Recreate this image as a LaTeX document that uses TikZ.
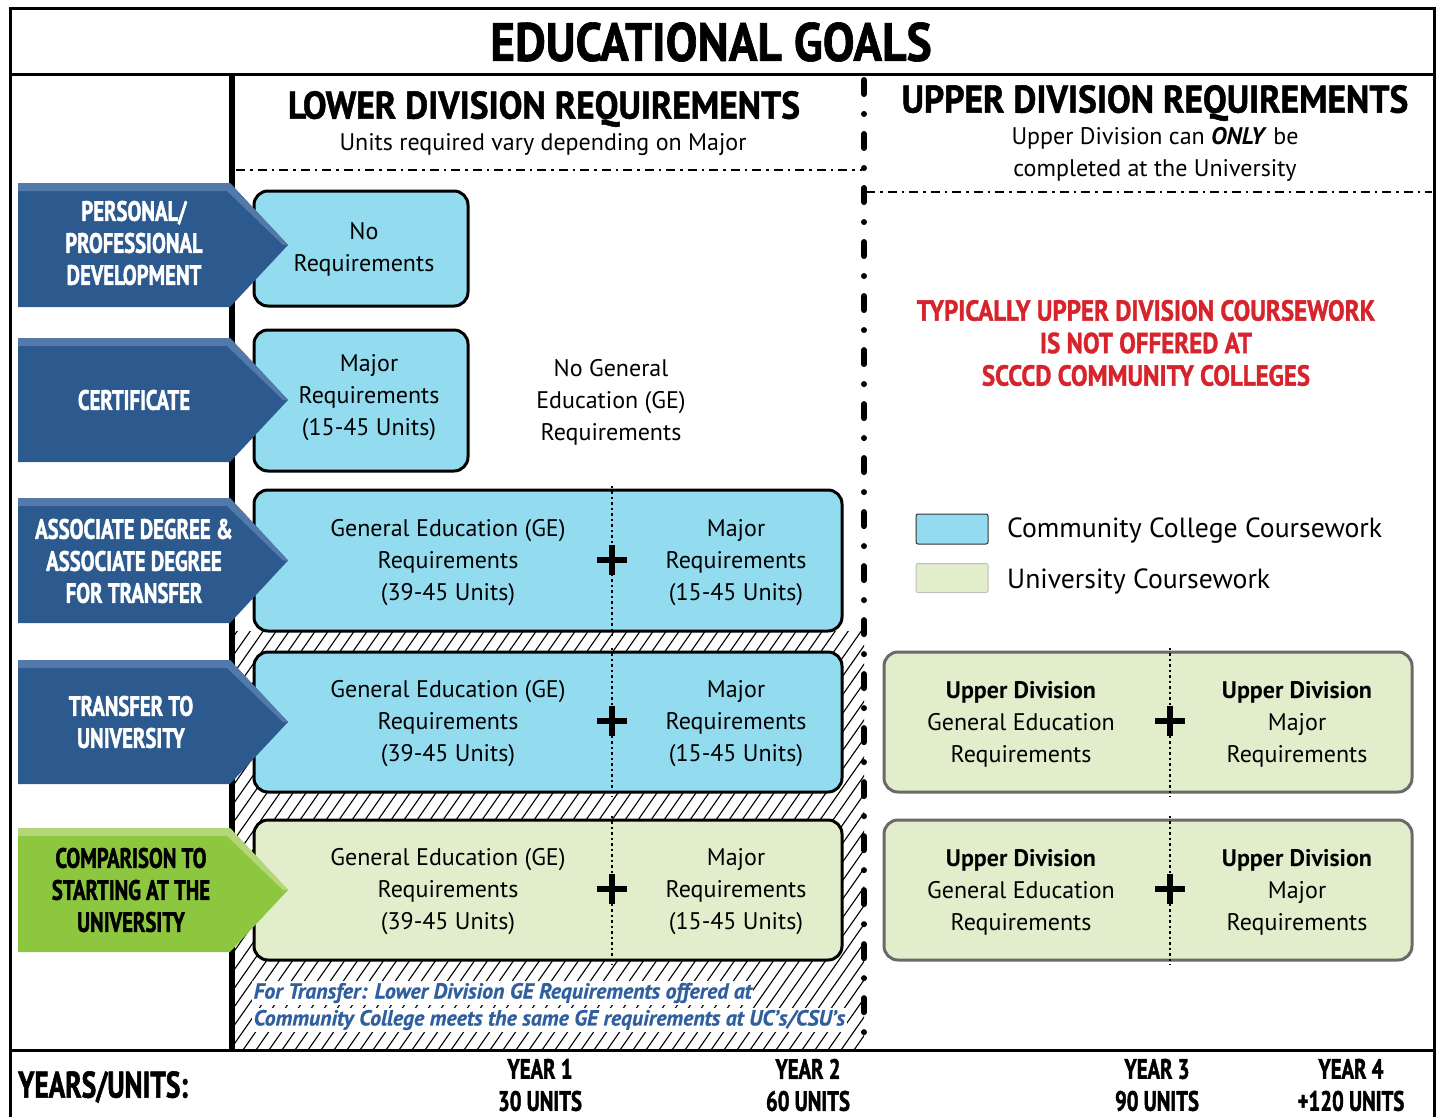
\documentclass[tikz,border=0pt]{standalone}
\usepackage{fontspec}
\setmainfont{PT Sans}
\newfontfamily\condf[FakeStretch=0.74,BoldFeatures={FakeBold=1.5}]{PT Sans}
\newfontfamily\redf[FakeStretch=0.86,BoldFeatures={FakeBold=1.2}]{PT Sans}
\newfontfamily\headf[FakeStretch=0.92,BoldFeatures={FakeBold=1.2}]{PT Sans}
\newfontfamily\titlef[FakeStretch=0.88,BoldFeatures={FakeBold=1.2}]{PT Sans}
\newfontfamily\notef[BoldItalicFeatures={FakeBold=0.6}]{PT Sans}
\definecolor{cyanbox}{HTML}{93DCF0}
\definecolor{greenbox}{HTML}{E2EDCB}
\definecolor{arrowblue}{HTML}{2C5A8E}
\definecolor{arrowbluelt}{HTML}{5279AA}
\definecolor{arrowgreen}{HTML}{8DC63F}
\definecolor{arrowgreenlt}{HTML}{B3D778}
\definecolor{redtxt}{HTML}{D7232B}
\definecolor{bluetxt}{HTML}{2F5F9E}
\definecolor{ubord}{HTML}{6A6A6A}
\newcommand\goalarrow[4]{%
  \fill[#3] (18,#1) -- (230,#1) -- (288,{(#1+#2)/2}) -- (230,#2) -- (18,#2) -- cycle;
  \fill[#4] (18,#1) -- (230,#1) -- (288,{(#1+#2)/2}) -- (283,{(#1+#2)/2}) -- (227,{#1+8}) -- (18,{#1+8}) -- cycle;
}
\tikzset{
  cbox/.style={draw=black, line width=3pt, rounded corners=14pt, fill=cyanbox, inner sep=0pt},
  gbox/.style={draw=black, line width=3pt, rounded corners=14pt, fill=greenbox, inner sep=0pt},
  ubox/.style={draw=ubord, line width=3pt, rounded corners=14pt, fill=greenbox, inner sep=0pt},
  txt/.style={font=\fontsize{24}{32}\selectfont, align=center, inner sep=0pt},
  arrtxt/.style={font=\condf\bfseries\fontsize{28}{32}\selectfont, align=center, inner sep=0pt, text=white},
  yeartxt/.style={font=\condf\bfseries\fontsize{28}{32}\selectfont, align=center, inner sep=0pt},
  notetxt/.style={font=\notef\bfseries\itshape\fontsize{21.8}{24}\selectfont, text=bluetxt, anchor=west, fill=white, inner sep=1.5pt},
  divline/.style={line width=2.5pt, dash pattern=on 2.5pt off 3pt},
  plusbar/.style={line width=6pt},
  dashdotthin/.style={line width=2.5pt, dash pattern=on 9pt off 5pt on 2.5pt off 5pt},
  dashdotthick/.style={line width=6pt, line cap=round, dash pattern=on 14pt off 20pt on 0.01pt off 20pt},
}
\begin{document}
\begin{tikzpicture}[x=1pt,y=-1pt]
\useasboundingbox (0,0) rectangle (1438,1117);
\fill[white] (0,0) rectangle (1438,1117);
% hatched region
\begin{scope}
  \clip (232,631) rectangle (864,1050);
  \foreach \b in {-160,-147,...,880} \draw[line width=1.1pt] (\b,1050) -- ++(350,-500);
\end{scope}
% frame
\draw[line width=3pt] (10,1117) -- (10,8) -- (1434,8) -- (1434,1117);
\draw[line width=3pt] (10,74) -- (1434,74);
\draw[line width=3pt] (10,1050) -- (1434,1050);
\draw[line width=6pt] (232,74) -- (232,1050);
\draw[dashdotthick] (864,80) -- (864,1048);
\draw[dashdotthin] (236,170) -- (862,170);
\draw[dashdotthin] (866,192) -- (1432,192);
% headers
\node[font=\titlef\bfseries\fontsize{54}{60}\selectfont, inner sep=0pt] (title) at (711,42) {EDUCATIONAL GOALS};
\node[font=\headf\bfseries\fontsize{38.6}{40}\selectfont, inner sep=0pt] (lowh) at (544,109) {LOWER DIVISION REQUIREMENTS};
\node[txt] (lows) at (543,145) {Units required vary depending on Major};
\node[font=\headf\bfseries\fontsize{38.6}{40}\selectfont, inner sep=0pt] (upph) at (1155,103) {UPPER DIVISION REQUIREMENTS};
\node[txt] (upps) at (1155,154.5) {Upper Division can \textbf{\textit{ONLY}} be\\completed at the University};
% boxes
\node[cbox, minimum width=214pt, minimum height=115pt] (b1) at (361,248.5) {};
\node[cbox, minimum width=214pt, minimum height=141pt] (b2) at (361,400.5) {};
\node[cbox, minimum width=588pt, minimum height=141pt] (b3) at (548,560.5) {};
\node[cbox, minimum width=588pt, minimum height=140pt] (b4) at (548,722) {};
\node[gbox, minimum width=588pt, minimum height=140pt] (b5) at (548,890) {};
\node[ubox, minimum width=528pt, minimum height=140pt] (u4) at (1148,722) {};
\node[ubox, minimum width=528pt, minimum height=140pt] (u5) at (1148,890) {};
\coordinate (dl) at (612,0);
\coordinate (dr) at (1170,0);
\foreach \bx in {b3,b4,b5} \draw[divline] ([yshift=3pt]dl |- \bx.north) -- ([yshift=-3pt]dl |- \bx.south);
\foreach \bx in {u4,u5} \draw[divline] ([yshift=3pt]dr |- \bx.north) -- ([yshift=-3pt]dr |- \bx.south);
% plus signs
\foreach \nm/\px/\py in {p3/612/560, p4/612/721, p5/612/889, q4/1170/721, q5/1170/889} {
  \coordinate (\nm) at (\px,\py);
  \draw[plusbar] ([xshift=-15pt]\nm) -- ([xshift=15pt]\nm);
  \draw[plusbar] ([yshift=-15pt]\nm) -- ([yshift=15pt]\nm);
}
% box texts
\node[txt] (t1) at (364,249) {No\\Requirements};
\node[txt] (t2) at (369,398) {Major\\Requirements\\(15-45 Units)};
\node[txt] (noge) at (611,402) {No General\\Education (GE)\\Requirements};
\foreach \nm/\yy in {3/563, 4/724, 5/892} {
  \node[txt] (ge\nm) at (448,\yy) {General Education (GE)\\Requirements\\(39-45 Units)};
  \node[txt] (mj\nm) at (736,\yy) {Major\\Requirements\\(15-45 Units)};
}
\foreach \nm/\yy in {4/724, 5/892} {
  \node[txt] (uge\nm) at (1021,\yy) {\textbf{Upper Division}\\General Education\\Requirements};
  \node[txt] (umj\nm) at (1297,\yy) {\textbf{Upper Division}\\Major\\Requirements};
}
% red note
\node[font=\redf\bfseries\fontsize{29}{32.5}\selectfont, align=center, text=redtxt, inner sep=0pt] (red) at (1146,343) {TYPICALLY UPPER DIVISION COURSEWORK\\IS NOT OFFERED AT\\SCCCD COMMUNITY COLLEGES};
% legend
\node[draw=black!80, line width=1pt, fill=cyanbox, rounded corners=2pt, minimum width=72pt, minimum height=30pt] (lg1) at (952,529) {};
\node[draw=black!25, line width=1pt, fill=greenbox, rounded corners=2pt, minimum width=72pt, minimum height=29pt] (lg2) at (952,578) {};
\node[font=\fontsize{27.7}{32}\selectfont, anchor=west, inner sep=0pt] (lt1) at (1007,531) {Community College Coursework};
\node[font=\fontsize{27.7}{32}\selectfont, anchor=west, inner sep=0pt] (lt2) at (1007,581) {University Coursework};
% transfer note
\node[notetxt] (n1) at (252,993) {For Transfer: Lower Division GE Requirements offered at};
\node[notetxt] (n2) at (252,1020) {Community College meets the same GE requirements at UC’s/CSU’s};
% arrows
\goalarrow{183}{307}{arrowblue}{arrowbluelt}
\goalarrow{338}{462}{arrowblue}{arrowbluelt}
\goalarrow{498}{623}{arrowblue}{arrowbluelt}
\goalarrow{660}{784}{arrowblue}{arrowbluelt}
\goalarrow{828}{952}{arrowgreen}{arrowgreenlt}
\node[arrtxt] (a1) at (134,243) {PERSONAL/\\PROFESSIONAL\\DEVELOPMENT};
\node[arrtxt] (a2) at (134,400) {CERTIFICATE};
\node[arrtxt] (a3) at (134,561) {ASSOCIATE DEGREE \&\\ASSOCIATE DEGREE\\FOR TRANSFER};
\node[arrtxt] (a4) at (131,722) {TRANSFER TO\\UNIVERSITY};
\node[arrtxt, text=black] (a5) at (131,890) {COMPARISON TO\\STARTING AT THE\\UNIVERSITY};
% years
\node[font=\condf\bfseries\fontsize{37}{40}\selectfont, anchor=west, inner sep=0pt] (yu) at (18,1087) {YEARS/UNITS:};
\node[yeartxt] (y1) at (540,1085) {YEAR 1\\30 UNITS};
\node[yeartxt] (y2) at (808,1085) {YEAR 2\\60 UNITS};
\node[yeartxt] (y3) at (1157,1085) {YEAR 3\\90 UNITS};
\node[yeartxt] (y4) at (1351,1085) {YEAR 4\\+120 UNITS};
\end{tikzpicture}
\end{document}
